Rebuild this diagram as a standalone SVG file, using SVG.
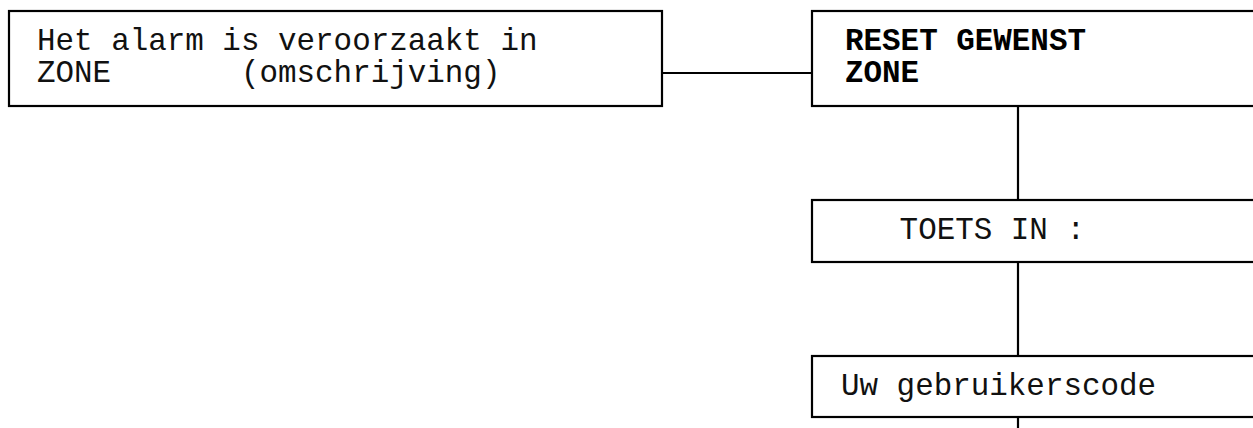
<svg xmlns="http://www.w3.org/2000/svg" width="1253" height="428" viewBox="0 0 1253 428">
<style>
.box{fill:#fff;stroke:#000;stroke-width:2.2}
.ln{stroke:#000;stroke-width:2.2;fill:none}
.t{font-family:"Liberation Mono","Courier New",monospace;font-size:30.9px;fill:#111;white-space:pre}
.b{font-weight:bold;fill:#000}
</style>
<rect width="1253" height="428" fill="#fff"/>
<g id="connectors">
<line class="ln" x1="662" y1="73" x2="812" y2="73"/>
<line class="ln" x1="1018" y1="106" x2="1018" y2="200"/>
<line class="ln" x1="1018" y1="262" x2="1018" y2="356"/>
<line class="ln" x1="1018" y1="417" x2="1018" y2="430"/>
</g>
<g id="node-alarm">
<rect class="box" x="9" y="11" width="653" height="95"/>
<text class="t" x="37" y="50" xml:space="preserve">Het alarm is veroorzaakt in</text>
<text class="t" x="37" y="82" xml:space="preserve">ZONE       (omschrijving)</text>
</g>
<g id="node-reset">
<rect class="box" x="812" y="11" width="460" height="95"/>
<text class="t b" x="845" y="50">RESET GEWENST</text>
<text class="t b" x="845" y="82">ZONE</text>
</g>
<g id="node-toets">
<rect class="box" x="812" y="200" width="460" height="62"/>
<text class="t" x="844" y="239" xml:space="preserve">   TOETS IN :</text>
</g>
<g id="node-code">
<rect class="box" x="812" y="356" width="460" height="61"/>
<text class="t" x="841" y="395">Uw gebruikerscode</text>
</g>
</svg>
